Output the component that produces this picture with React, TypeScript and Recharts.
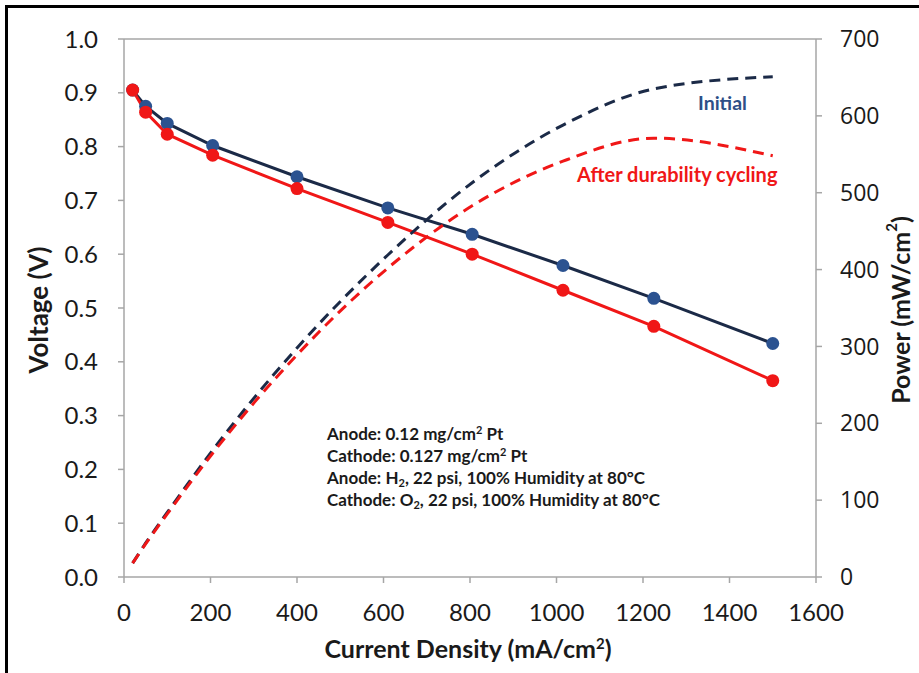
import React from "react";
import {
  ComposedChart,
  Line,
  XAxis,
  YAxis,
  ReferenceLine,
} from "recharts";

// Current density (mA/cm²) at each measured operating point
const currentDensity = [20, 50, 100, 205, 400, 610, 805, 1015, 1225, 1500];

// Cell voltage (V)
const voltageInitial = [0.905, 0.875, 0.843, 0.802, 0.744, 0.686, 0.637, 0.579, 0.518, 0.434];
const voltageAfter = [0.905, 0.864, 0.823, 0.784, 0.722, 0.659, 0.6, 0.533, 0.466, 0.365];

// Power density (mW/cm²)
const powerInitial = [18, 44, 84, 165, 298, 419, 513, 588, 635, 651];
const powerAfter = [18, 43, 82, 161, 289, 402, 483, 541, 571, 548];

// Axis ticks
const xTicks = [0, 200, 400, 600, 800, 1000, 1200, 1400, 1600];
const voltageTicks = [0, 0.1, 0.2, 0.3, 0.4, 0.5, 0.6, 0.7, 0.8, 0.9, 1.0];
const powerTicks = [0, 100, 200, 300, 400, 500, 600, 700];

const rows = currentDensity.map((x, i) => ({
  x,
  vInit: voltageInitial[i],
  vAfter: voltageAfter[i],
  pInit: powerInitial[i],
  pAfter: powerAfter[i],
}));

const NAVY_LINE = "#1b2a47";
const NAVY_DOT = "#2b5290";
const NAVY_TEXT = "#2e4f87";
const RED = "#f01717";
const AXIS_GRAY = "#a6a6a6";
const TEXT = "#1a1a1a";
const FONT = "Lato, 'Open Sans', sans-serif";

const W = 919;
const H = 673;

export default function App() {
  return (
    <div style={{ position: "absolute", left: 0, top: 0, width: W, height: H, background: "#fff" }}>
      <ComposedChart
        width={W}
        height={H}
        data={rows}
        margin={{ top: 39, right: 43, left: 64, bottom: 56 }}
      >
        <XAxis
          dataKey="x"
          type="number"
          domain={[0, 1600]}
          ticks={xTicks}
          interval={0}
          stroke={AXIS_GRAY}
          strokeWidth={1.5}
          tickSize={6}
          tickMargin={21}
          height={40}
          tick={{ fill: TEXT, fontSize: 24, fontFamily: FONT }}
        />
        <YAxis
          yAxisId="left"
          domain={[0, 1]}
          ticks={voltageTicks}
          interval={0}
          width={60}
          stroke={AXIS_GRAY}
          strokeWidth={1.5}
          tickSize={6}
          tickMargin={20}
          tickFormatter={(v: number) => v.toFixed(1)}
          tick={{ fill: TEXT, fontSize: 24, fontFamily: FONT }}
        />
        <YAxis
          yAxisId="right"
          orientation="right"
          domain={[0, 700]}
          ticks={powerTicks}
          interval={0}
          width={60}
          stroke={AXIS_GRAY}
          strokeWidth={1.5}
          tickSize={6}
          tickMargin={18}
          tick={{ fill: TEXT, fontSize: 23, fontFamily: "'Open Sans', sans-serif" }}
        />
        <ReferenceLine yAxisId="left" y={1} stroke={AXIS_GRAY} strokeWidth={1.5} />

        <Line
          yAxisId="left"
          dataKey="vInit"
          type="linear"
          stroke={NAVY_LINE}
          strokeWidth={3}
          dot={{ r: 6.5, fill: NAVY_DOT, stroke: NAVY_DOT, strokeWidth: 0 }}
          activeDot={false}
          isAnimationActive={false}
        />
        <Line
          yAxisId="left"
          dataKey="vAfter"
          type="linear"
          stroke={RED}
          strokeWidth={3}
          dot={{ r: 6.5, fill: RED, stroke: RED, strokeWidth: 0 }}
          activeDot={false}
          isAnimationActive={false}
        />
        <Line
          yAxisId="right"
          dataKey="pInit"
          type="monotone"
          stroke={NAVY_LINE}
          strokeWidth={3}
          strokeDasharray="11 7"
          dot={false}
          activeDot={false}
          isAnimationActive={false}
        />
        <Line
          yAxisId="right"
          dataKey="pAfter"
          type="monotone"
          stroke={RED}
          strokeWidth={3}
          strokeDasharray="11 7"
          dot={false}
          activeDot={false}
          isAnimationActive={false}
        />
      </ComposedChart>

      <svg
        width={W}
        height={H}
        style={{ position: "absolute", left: 0, top: 0, pointerEvents: "none" }}
      >
        {/* frame */}
        <rect x={5} y={5} width={W - 5} height={3} fill="#000" />
        <rect x={5} y={5} width={3} height={H - 5} fill="#000" />

        {/* axis titles */}
        <text
          x={0}
          y={0}
          transform="translate(38 310) rotate(-90)"
          textAnchor="middle"
          dominantBaseline="central"
          fontFamily={FONT}
          fontWeight={700}
          fontSize={26}
          fill={TEXT}
        >
          Voltage (V)
        </text>
        <text
          x={0}
          y={0}
          transform="translate(900 310) rotate(-90)"
          textAnchor="middle"
          dominantBaseline="central"
          fontFamily={FONT}
          fontWeight={700}
          fontSize={25}
          fill={TEXT}
        >
          Power (mW/cm
          <tspan fontSize={15} dy={-9}>2</tspan>
          <tspan dy={9}>)</tspan>
        </text>
        <text
          x={468}
          y={658}
          textAnchor="middle"
          fontFamily={FONT}
          fontWeight={700}
          fontSize={25}
          fill={TEXT}
        >
          Current Density (mA/cm
          <tspan fontSize={15} dy={-9}>2</tspan>
          <tspan dy={9}>)</tspan>
        </text>

        {/* series labels */}
        <text x={698} y={110} fontFamily={FONT} fontWeight={700} fontSize={19.5} fill={NAVY_TEXT}>
          Initial
        </text>
        <text x={577} y={182} fontFamily={FONT} fontWeight={700} fontSize={20} fill={RED}>
          After durability cycling
        </text>

        {/* test conditions */}
        <g fontFamily={FONT} fontWeight={700} fontSize={17} fill={TEXT}>
          <text x={327} y={440}>
            Anode: 0.12 mg/cm<tspan fontSize={11} dy={-6}>2</tspan>
            <tspan dy={6}> Pt</tspan>
          </text>
          <text x={327} y={462}>
            Cathode: 0.127 mg/cm<tspan fontSize={11} dy={-6}>2</tspan>
            <tspan dy={6}> Pt</tspan>
          </text>
          <text x={327} y={484}>
            Anode: H<tspan fontSize={11} dy={3}>2</tspan>
            <tspan dy={-3}>, 22 psi, 100% Humidity at 80°C</tspan>
          </text>
          <text x={327} y={506}>
            Cathode: O<tspan fontSize={11} dy={3}>2</tspan>
            <tspan dy={-3}>, 22 psi, 100% Humidity at 80°C</tspan>
          </text>
        </g>
      </svg>
    </div>
  );
}
